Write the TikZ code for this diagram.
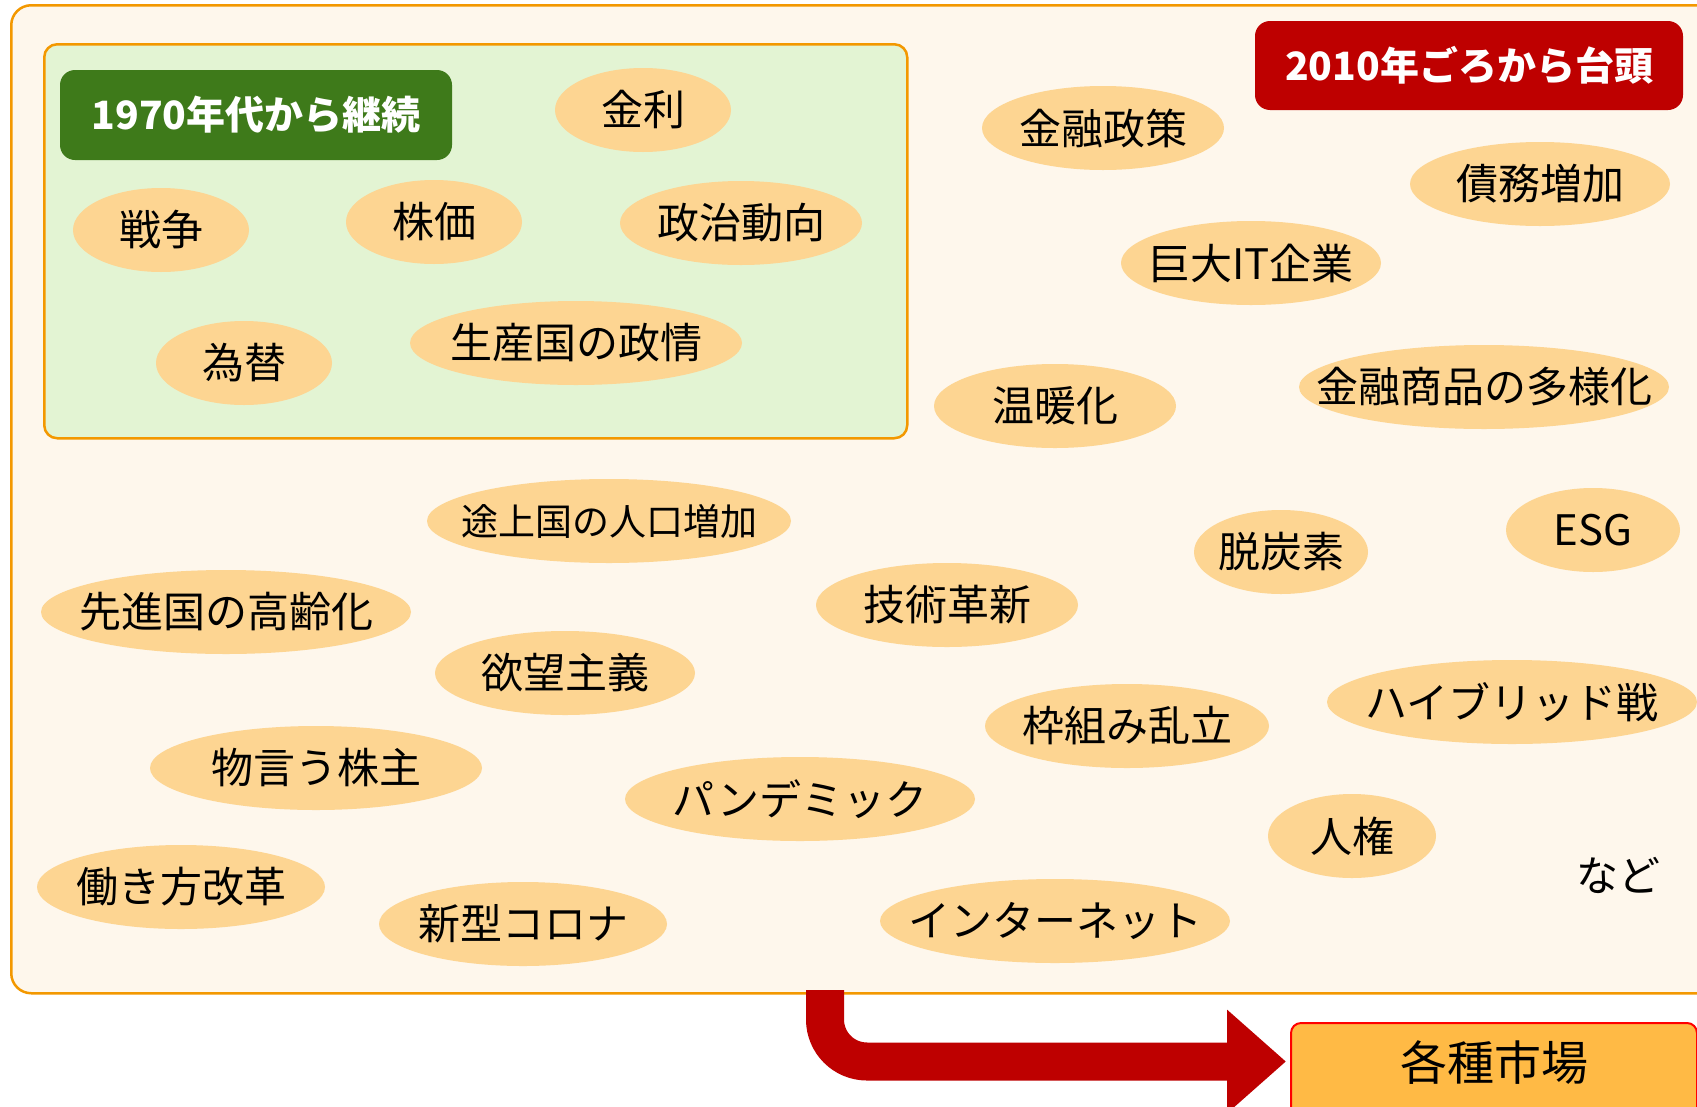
\documentclass[tikz,border=0pt]{standalone}
\usepackage{fontspec}
\setmainfont{Noto Sans CJK JP}
\usetikzlibrary{shapes.geometric,arrows.meta}
\definecolor{outerfill}{HTML}{FEF7EC}
\definecolor{orangeline}{HTML}{F39800}
\definecolor{greenfill}{HTML}{E3F4D3}
\definecolor{greenlabel}{HTML}{3E7A1A}
\definecolor{redlabel}{HTML}{BE0000}
\definecolor{elfill}{HTML}{FDD592}
\definecolor{mktfill}{HTML}{FFBA45}
\newcommand{\zw}[1]{\makebox[0pt]{#1}}
\tikzset{
  el/.style={ellipse, fill=elfill, draw=none, inner sep=0pt, minimum height=84pt,
    font=\fontsize{42}{50}\selectfont, text=black},
  labelbox/.style={rectangle, rounded corners=15pt, inner sep=0pt, text=white,
    font=\fontsize{39}{46}\selectfont\bfseries},
  panel/.style={rectangle, draw=orangeline, line width=2.5pt, inner sep=0pt},
  bigarrow/.style={draw=redlabel, line width=38pt, rounded corners=42pt,
    -{Triangle[length=59pt,width=100pt]}, color=redlabel}
}
\begin{document}
\begin{tikzpicture}[x=1pt,y=-1pt]
\useasboundingbox (0,0) rectangle (1697,1106);
\clip (0,0) rectangle (1697,1106);
\fill[white] (0,0) rectangle (1697,1106);
% outer panel
\node[panel, fill=outerfill, rounded corners=20pt, anchor=north west,
  minimum width=1740pt, minimum height=988pt] (outer) at (10,4) {};
% inner green panel
\node[panel, fill=greenfill, rounded corners=13pt, anchor=north west,
  minimum width=863pt, minimum height=394pt] (green) at (43,43) {};
% labels
\node[labelbox, fill=greenlabel, minimum width=392pt, minimum height=90pt] (since1970) at (256,115) {1970年代から継続};
\node[labelbox, fill=redlabel, minimum width=428pt, minimum height=89pt] (since2010) at (1469,65.5) {2010年ごろから台頭};
% ellipses in green panel
\node[el, minimum width=176pt] (kinri) at (643,110) {\zw{金利}};
\node[el, minimum width=176pt] (senso) at (161,230) {\zw{戦争}};
\node[el, minimum width=176pt] (kabuka) at (434,222) {\zw{株価}};
\node[el, minimum width=242pt] (seiji) at (741,223) {\zw{政治動向}};
\node[el, minimum width=176pt] (kawase) at (244,363) {\zw{為替}};
\node[el, minimum width=332pt] (seijo) at (576,343) {\zw{生産国の政情}};
% ellipses outside
\node[el, minimum width=242pt] (kinyuseisaku) at (1103,128) {\zw{金融政策}};
\node[el, minimum width=260pt] (saimu) at (1540,184) {\zw{債務増加}};
\node[el, minimum width=260pt] (bigit) at (1251,263) {\zw{巨大IT企業}};
\node[el, minimum width=242pt] (ondan) at (1055,406) {\zw{温暖化}};
\node[el, minimum width=370pt] (shohin) at (1484,387) {\zw{金融商品の多様化}};
\node[el, minimum width=364pt, font=\fontsize{37}{44}\selectfont] (tojo) at (609,521) {\zw{途上国の人口増加}};
\node[el, minimum width=174pt] (datsu) at (1281,552) {\zw{脱炭素}};
\node[el, minimum width=174pt] (esg) at (1593,530) {\zw{ESG}};
\node[el, minimum width=370pt] (korei) at (226,612) {\zw{先進国の高齢化}};
\node[el, minimum width=262pt] (gijutsu) at (947,605) {\zw{技術革新}};
\node[el, minimum width=260pt] (yokubo) at (565,673) {\zw{欲望主義}};
\node[el, minimum width=284pt] (wakugumi) at (1127,726) {\zw{枠組み乱立}};
\node[el, minimum width=370pt] (hybrid) at (1512,702) {\zw{ハイブリッド戦}};
\node[el, minimum width=332pt] (monoiu) at (316,768) {\zw{物言う株主}};
\node[el, minimum width=350pt] (pandemic) at (800,799) {\zw{パンデミック}};
\node[el, minimum width=168pt] (jinken) at (1352,836) {\zw{人権}};
\node[el, minimum width=288pt] (hataraki) at (181,887) {\zw{働き方改革}};
\node[el, minimum width=288pt] (corona) at (523,924) {\zw{新型コロナ}};
\node[el, minimum width=350pt] (internet) at (1055,921) {\zw{インターネット}};
\node[font=\fontsize{42}{50}\selectfont, inner sep=0pt] (nado) at (1618,875) {など};
% market box
\node[rectangle, rounded corners=10pt, draw=red, line width=2pt, fill=mktfill,
  anchor=north west, minimum width=406pt, minimum height=100pt, inner sep=0pt] (market) at (1290,1022) {};
\node[font=\fontsize{47}{56}\selectfont, inner sep=0pt] (markettext) at (1494,1063) {各種市場};
% arrow
\coordinate (astart) at (825,990);
\draw[bigarrow, shorten >=4pt] (astart) -- (825,1061.5) -- (market.west |- 0,1061.5);
\end{tikzpicture}
\end{document}
